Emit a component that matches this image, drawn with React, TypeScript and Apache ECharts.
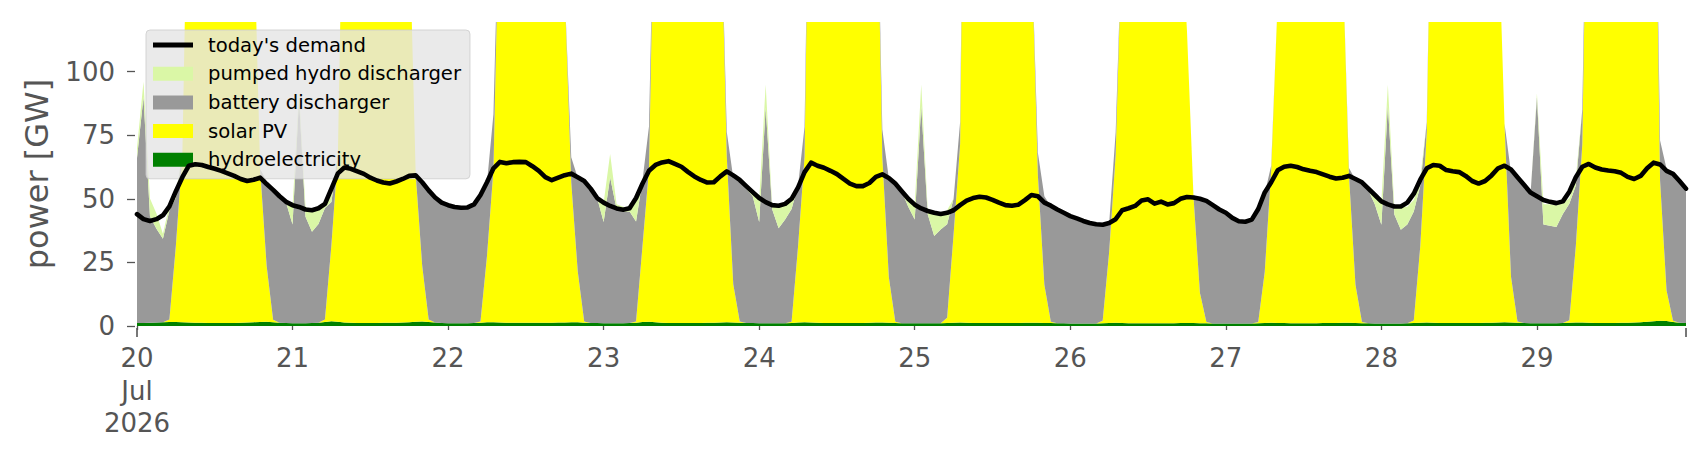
import React, { useEffect, useRef } from "react";
import * as echarts from "echarts";

// Hourly values, 20 Jul 2026 00:00 ... 29 Jul 2026 23:00 (one row per day)
const DEMAND = [
  44, 42, 41.3, 42, 43.5, 47, 53, 58.5, 63, 63.6, 63.3, 62.5, 61.8, 61, 60, 59, 57.8, 57, 57.5, 58.3, 55.8, 53.5, 51, 48.8,
  47.5, 46.8, 45.8, 45.5, 46.3, 48, 54, 60, 62.3, 61.8, 60.8, 59.8, 58.3, 57.2, 56.4, 56, 56.8, 57.8, 59, 59.2, 56.5, 53.3, 50.5, 48.5,
  47.5, 46.8, 46.5, 46.6, 47.8, 51.5, 56.5, 62, 64.5, 64, 64.4, 64.5, 64.4, 62.8, 61, 58.5, 57.3, 58.3, 59.3, 59.9, 58.5, 57, 54, 50.3,
  48.5, 47.2, 46.2, 45.7, 46.3, 50.3, 56, 61, 63.3, 64.3, 64.8, 63.7, 62.6, 60.6, 58.8, 57.4, 56.4, 56.5, 58.8, 60.8, 59.2, 57.4, 55, 52.6,
  50.3, 48.7, 47.5, 47.3, 48, 50, 54.5, 60.5, 64.2, 63, 62.2, 61, 59.7, 57.8, 56, 55, 55, 56.2, 58.6, 59.6, 58.2, 56, 53, 50,
  47.7, 46.2, 45.2, 44.5, 44, 44.5, 45.5, 47.5, 49.3, 50.3, 50.8, 50.5, 49.6, 48.5, 47.5, 47.3, 47.7, 49.5, 51.5, 51, 48.5, 47.3, 45.8, 44.5,
  43.2, 42.3, 41.3, 40.5, 40, 39.8, 40.5, 42, 45.5, 46.3, 47.2, 49.3, 49.8, 48.1, 48.9, 47.8, 48.3, 50, 50.7, 50.5, 50, 49.2, 47.5, 45.8,
  44.5, 42.5, 41.2, 41, 41.8, 46, 52.5, 56.5, 61.2, 62.6, 63, 62.5, 61.6, 61, 60.5, 59.6, 58.7, 58, 58.3, 59, 57.8, 56.5, 54, 51.5,
  49, 47.8, 47, 47, 48.5, 52, 57.5, 62, 63.3, 63, 61.3, 60.8, 60.5, 59, 57, 56, 57, 59.2, 62, 63, 61.5, 58.5, 55.5, 52.5,
  51, 49.5, 48.8, 48.3, 49, 52.8, 58.5, 62.6, 63.7, 62.3, 61.5, 61.1, 60.8, 60.2, 58.6, 57.8, 59, 62, 64.2, 63.5, 61, 59.8, 57, 54,
];

const HYDRO = [
  1.2, 1.2, 1.3, 1.4, 1.5, 1.6, 1.6, 1.5, 1.4, 1.3, 1.3, 1.2, 1.2, 1.2, 1.2, 1.2, 1.3, 1.4, 1.5, 1.6, 1.7, 1.5, 1.3, 1.2,
  1.1, 1.1, 1.1, 1.2, 1.3, 1.6, 1.9, 1.7, 1.4, 1.3, 1.2, 1.2, 1.2, 1.2, 1.3, 1.3, 1.3, 1.4, 1.5, 1.7, 1.8, 1.6, 1.4, 1.2,
  1.1, 1.1, 1.1, 1.1, 1.2, 1.3, 1.5, 1.5, 1.4, 1.3, 1.3, 1.3, 1.3, 1.3, 1.3, 1.3, 1.3, 1.4, 1.4, 1.5, 1.5, 1.3, 1.2, 1.2,
  1.1, 1.1, 1.1, 1.1, 1.2, 1.3, 1.6, 1.7, 1.5, 1.3, 1.2, 1.2, 1.2, 1.2, 1.2, 1.2, 1.3, 1.3, 1.4, 1.5, 1.4, 1.3, 1.2, 1.2,
  1.1, 1.1, 1.1, 1.1, 1.1, 1.2, 1.4, 1.5, 1.4, 1.3, 1.2, 1.2, 1.2, 1.2, 1.2, 1.2, 1.2, 1.3, 1.4, 1.4, 1.3, 1.2, 1.1, 1.1,
  1.1, 1.1, 1.1, 1.1, 1.1, 1.2, 1.3, 1.4, 1.3, 1.2, 1.2, 1.2, 1.2, 1.2, 1.2, 1.2, 1.2, 1.3, 1.3, 1.3, 1.2, 1.2, 1.1, 1.1,
  1.0, 1.0, 1.0, 1.0, 1.0, 1.1, 1.2, 1.3, 1.2, 1.1, 1.1, 1.1, 1.1, 1.1, 1.1, 1.1, 1.1, 1.2, 1.2, 1.2, 1.1, 1.1, 1.0, 1.0,
  1.0, 1.0, 1.0, 1.0, 1.0, 1.1, 1.2, 1.3, 1.2, 1.2, 1.1, 1.1, 1.1, 1.1, 1.1, 1.2, 1.2, 1.2, 1.3, 1.3, 1.2, 1.1, 1.1, 1.0,
  1.0, 1.0, 1.0, 1.0, 1.1, 1.2, 1.3, 1.4, 1.3, 1.2, 1.2, 1.2, 1.2, 1.2, 1.2, 1.2, 1.3, 1.3, 1.4, 1.5, 1.4, 1.3, 1.2, 1.1,
  1.1, 1.1, 1.1, 1.1, 1.2, 1.3, 1.4, 1.4, 1.3, 1.2, 1.2, 1.2, 1.2, 1.3, 1.3, 1.4, 1.5, 1.7, 1.9, 2.1, 2.0, 1.6, 1.3, 1.2,
];

const SOLAR = [
  0, 0, 0, 0, 0, 1, 30, 66, 205, 255, 285, 300, 302, 292, 275, 255, 228, 195, 158, 60, 22, 1, 0, 0,
  0, 0, 0, 0, 0, 1, 30, 66, 210, 260, 290, 305, 306, 296, 278, 256, 230, 196, 158, 58, 22, 1, 0, 0,
  0, 0, 0, 0, 0, 0.5, 26, 60, 180, 240, 275, 292, 296, 288, 270, 248, 220, 185, 130, 55, 20, 0.5, 0, 0,
  0, 0, 0, 0, 0, 0.5, 30, 60, 200, 250, 282, 298, 300, 292, 275, 255, 228, 195, 173, 65, 15, 0.5, 0, 0,
  0, 0, 0, 0, 0, 0.5, 30, 65, 245, 280, 300, 310, 312, 303, 285, 262, 235, 210, 200, 65, 18, 0.5, 0, 0,
  0, 0, 0, 0, 0, 2, 35, 70, 300, 320, 330, 335, 332, 320, 300, 275, 245, 205, 150, 58, 15, 0.5, 0, 0,
  0, 0, 0, 0, 0, 1, 28, 66, 155, 200, 235, 255, 262, 258, 245, 225, 200, 160, 115, 50, 12, 0.5, 0, 0,
  0, 0, 0, 0, 0, 0.5, 20, 60, 127, 200, 240, 262, 270, 265, 250, 230, 205, 175, 145, 58, 15, 0.5, 0, 0,
  0, 0, 0, 0, 0, 1, 30, 75, 225, 270, 295, 308, 310, 300, 282, 260, 232, 200, 160, 78, 18, 0.5, 0, 0,
  0, 0, 0, 0, 0, 1, 30, 70, 233, 275, 300, 312, 315, 305, 290, 275, 258, 245, 238, 55, 12, 0.5, 0, 0,
];

const BATTERY = [
  64.8, 88.8, 41.8, 36.8, 32.8, 42.8, 18.8, 0, 0, 0, 0, 0, 0, 0, 0, 0, 0, 0, 0, 0, 33.3, 51.8, 50.3, 47.3,
  38.8, 87.8, 41.8, 35.8, 38.8, 43.8, 16.8, 0, 0, 0, 0, 0, 0, 0, 0, 0, 0, 0, 0, 0, 32.8, 50.8, 49.1, 47.1,
  46.1, 45.4, 45.1, 45.2, 46.3, 49.3, 28.8, 21.8, 0, 0, 0, 0, 0, 0, 0, 0, 0, 0, 0, 9.8, 36.8, 54.8, 52.6, 49.1,
  39.8, 57.4, 44.8, 43.8, 43.8, 39.3, 25.8, 16.8, 0, 0, 0, 0, 0, 0, 0, 0, 0, 0, 0, 9.8, 41.8, 55.3, 52.8, 49.8,
  39.8, 84.8, 44.8, 37.3, 40.8, 44.3, 23.8, 11.8, 0, 0, 0, 0, 0, 0, 0, 0, 0, 0, 0, 10.8, 38.8, 54.3, 51.8, 45.8,
  40.8, 85.3, 42.8, 34.3, 36.8, 36.8, 13.8, 8.8, 0, 0, 0, 0, 0, 0, 0, 0, 0, 0, 0, 8.8, 34.8, 45.3, 44.3, 42.8,
  41.8, 40.6, 39.8, 39.1, 38.6, 37.4, 11.3, 8.8, 0, 0, 0, 0, 0, 0, 0, 0, 0, 0, 0, 0.3, 36.8, 47.3, 46, 44.3,
  43.1, 41.1, 39.8, 39.6, 40.3, 43.8, 30.8, 1.8, 0, 0, 0, 0, 0, 0, 0, 0, 0, 0, 0, 2.8, 41.3, 54.6, 52.3, 46.8,
  38.8, 85.8, 42.8, 36.8, 38.8, 42.8, 23.8, 3.8, 0, 0, 0, 0, 0, 0, 0, 0, 0, 0, 0, 0, 40.8, 55.8, 53.3, 50.3,
  88.8, 38.8, 38.3, 37.8, 42.8, 45.8, 23.8, 13.8, 0, 0, 0, 0, 0, 0, 0, 0, 0, 0, 0, 15.8, 47.8, 57.8, 55.8, 52.3,
];

const PUMPED = [
  4, 6, 7, 6, 2, 2, 2, 0, 0, 0, 0, 0, 0, 0, 0, 0, 0, 0, 0, 0, 0, 0, 0, 1,
  7, 3, 4, 8, 6, 2, 3, 0, 0, 0, 0, 0, 0, 0, 0, 0, 0, 0, 0, 0, 0, 0, 0, 0,
  0, 0, 0, 0, 0, 0, 0, 0, 0, 0, 0, 0, 0, 0, 0, 0, 0, 0, 0, 0, 0, 0, 0, 0,
  7.5, 9.1, 2, 2, 1.5, 9, 0, 0, 0, 0, 0, 0, 0, 0, 0, 0, 0, 0, 0, 0, 0, 0, 1, 1.5,
  8.5, 9, 1.5, 8.5, 6, 4, 0, 0, 0, 0, 0, 0, 0, 0, 0, 0, 0, 0, 0, 0, 0, 0, 0, 3.5,
  6, 8.5, 2, 9, 6, 5.5, 0, 0, 0, 0, 0, 0, 0, 0, 0, 0, 0, 0, 0, 0, 0, 0, 0, 0,
  0, 0, 0, 0, 0, 0, 0, 0, 0, 0, 0, 0, 0, 0, 0, 0, 0, 0, 0, 0, 0, 0, 0, 0,
  0, 0, 0, 0, 0, 0, 0, 0, 0, 0, 0, 0, 0, 0, 0, 0, 0, 0, 0, 0, 0, 0, 0, 3,
  9, 8, 3, 9, 7, 4.5, 3, 0, 0, 0, 0, 0, 0, 0, 0, 0, 0, 0, 0, 0, 0, 0, 0, 0,
  1.5, 8, 8.5, 8.5, 4.5, 2, 3, 0, 0, 0, 0, 0, 0, 0, 0, 0, 0, 0, 0, 0, 0, 0, 0, 0,
];

const DAY_LABELS = ["20\nJul\n2026", "21", "22", "23", "24", "25", "26", "27", "28", "29"];
const Y_TICKS = [0, 25, 50, 75, 100];
const HOURS_PER_DAY = 24;

const NAMES = {
  demand: "today's demand",
  pumped: "pumped hydro discharger",
  battery: "battery discharger",
  solar: "solar PV",
  hydro: "hydroelectricity",
};

const COLORS = {
  demand: "#000000",
  pumped: "#daf7a6",
  battery: "#999999",
  solar: "#ffff00",
  hydro: "#008000",
};

const FONT = "'DejaVu Sans', sans-serif";
const LAST_HOUR = DEMAND.length - 1;
// one category per hourly sample
const CATEGORIES = DEMAND.map((_, i) => String(i));

function areaSeries(name: string, values: number[], color: string) {
  return {
    name,
    type: "line",
    stack: "supply",
    data: values,
    symbol: "none",
    showSymbol: false,
    color,
    lineStyle: { width: 0, color },
    itemStyle: { color },
    areaStyle: { color, opacity: 1 },
    emphasis: { disabled: true },
    silent: true,
    clip: true,
  };
}

export default function App() {
  const ref = useRef<HTMLDivElement>(null);

  useEffect(() => {
    if (!ref.current) return;
    const chart = echarts.init(ref.current, null, { renderer: "svg", width: 1706, height: 460 });

    const isDayStart = (index: number) => index % HOURS_PER_DAY === 0;

    const option: any = {
      animation: false,
      backgroundColor: "#ffffff",
      grid: { left: 137, right: 20, top: 22, bottom: 134, containLabel: false },
      xAxis: [
        {
          type: "category",
          data: CATEGORIES,
          boundaryGap: false,
          position: "bottom",
          offset: 4,
          axisLine: { show: false },
          splitLine: { show: false },
          axisTick: {
            show: true,
            length: 4,
            interval: (index: number) => isDayStart(index),
            lineStyle: { color: "#555555", width: 1.3 },
          },
          axisLabel: {
            show: true,
            interval: (index: number) => isDayStart(index),
            margin: 12,
            color: "#555555",
            fontSize: 26,
            lineHeight: 32.5,
            fontFamily: FONT,
            formatter: (_v: string, index: number) =>
              isDayStart(index) ? DAY_LABELS[index / HOURS_PER_DAY] ?? "" : "",
          },
        },
        {
          type: "category",
          data: CATEGORIES,
          boundaryGap: false,
          position: "bottom",
          offset: 2,
          axisLine: { show: false },
          splitLine: { show: false },
          axisLabel: { show: false },
          axisTick: {
            show: true,
            length: 9,
            interval: (index: number) => index === 0 || index === LAST_HOUR,
            lineStyle: { color: "#555555", width: 1.6 },
          },
        },
      ],
      yAxis: {
        type: "value",
        min: 0,
        max: 119.5,
        interval: 25,
        position: "left",
        offset: 2,
        axisLine: { show: false },
        splitLine: { show: false },
        axisTick: {
          show: true,
          length: 8,
          customValues: Y_TICKS,
          lineStyle: { color: "#555555", width: 1.3 },
        },
        axisLabel: {
          customValues: Y_TICKS,
          margin: 20,
          color: "#555555",
          fontSize: 26,
          fontFamily: FONT,
          formatter: (v: number) => (v % 25 === 0 && v <= 100 ? String(v) : ""),
        },
        name: "power [GW]",
        nameLocation: "middle",
        nameGap: 82,
        nameTextStyle: { color: "#555555", fontSize: 32, fontFamily: FONT },
      },
      legend: {
        show: true,
        orient: "vertical",
        left: 146,
        top: 30,
        padding: [5, 9, 9, 7],
        itemWidth: 40,
        itemHeight: 14,
        itemGap: 8.7,
        backgroundColor: "rgba(229,229,229,0.8)",
        borderColor: "rgba(204,204,204,0.8)",
        borderWidth: 1,
        borderRadius: 4,
        selectedMode: false,
        itemStyle: { borderWidth: 0 },
        textStyle: {
          fontFamily: FONT,
          fontSize: 19.6,
          lineHeight: 20,
          color: "#000000",
          padding: [0, 0, 0, 10],
        },
        data: [
          { name: NAMES.demand, icon: "path://M0,0L0.01,0M0,4.6L40,4.6L40,9.4L0,9.4ZM40,14L39.99,14" },
          { name: NAMES.pumped, icon: "rect" },
          { name: NAMES.battery, icon: "rect" },
          { name: NAMES.solar, icon: "rect" },
          { name: NAMES.hydro, icon: "rect" },
        ],
      },
      series: [
        areaSeries(NAMES.hydro, HYDRO, COLORS.hydro),
        areaSeries(NAMES.solar, SOLAR, COLORS.solar),
        areaSeries(NAMES.battery, BATTERY, COLORS.battery),
        areaSeries(NAMES.pumped, PUMPED, COLORS.pumped),
        {
          name: NAMES.demand,
          type: "line",
          data: DEMAND,
          symbol: "none",
          showSymbol: false,
          color: COLORS.demand,
          lineStyle: { width: 4.6, color: COLORS.demand, join: "round", cap: "round" },
          itemStyle: { color: COLORS.demand },
          emphasis: { disabled: true },
          silent: true,
          z: 5,
          clip: true,
        },
      ],
    };

    chart.setOption(option);
    return () => chart.dispose();
  }, []);

  return (
    <div
      ref={ref}
      style={{ position: "absolute", left: 0, top: 0, width: 1706, height: 460, background: "#ffffff" }}
    />
  );
}
